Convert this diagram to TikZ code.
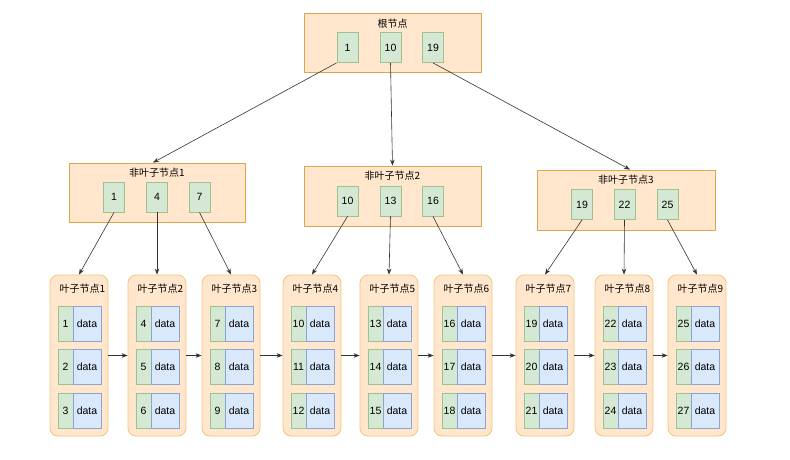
\documentclass[tikz,border=0pt]{standalone}
\usepackage{fontspec}
\setmainfont{Liberation Sans}
\newfontfamily\cjk{Noto Sans CJK SC}
\usetikzlibrary{arrows.meta,calc}
\definecolor{boxfill}{HTML}{FFE6CC}
\definecolor{boxline}{HTML}{D8A84E}
\definecolor{leafline}{HTML}{F2C57A}
\definecolor{kfill}{HTML}{D5E8D4}
\definecolor{kline}{HTML}{9CC38E}
\definecolor{dfill}{HTML}{DAE8FC}
\definecolor{dline}{HTML}{8AA6CF}
\definecolor{edge}{HTML}{333333}
\tikzset{
  bigbox/.style={draw=boxline, fill=boxfill, line width=0.8pt, inner sep=0pt},
  leafbox/.style={draw=leafline, fill=boxfill, line width=0.8pt, rounded corners=8pt, inner sep=0pt, minimum width=58pt, minimum height=161pt},
  key/.style={draw=kline, fill=kfill, line width=0.8pt, minimum width=21pt, minimum height=30pt, inner sep=0pt, font=\fontsize{10.5}{12}\selectfont},
  lkey/.style={draw=kline, fill=kfill, line width=0.8pt, minimum width=15pt, minimum height=35pt, inner sep=0pt, font=\fontsize{10.5}{12}\selectfont},
  ldata/.style={draw=dline, fill=dfill, line width=0.8pt, minimum width=28pt, minimum height=35pt, inner sep=0pt, font=\fontsize{10.5}{12}\selectfont},
  ttl/.style={font=\cjk\fontsize{10}{12}\selectfont, inner sep=0pt},
  conn/.style={draw=edge, line width=0.6pt, -{Stealth[length=6pt,width=4.5pt]}}
}
\begin{document}
\begin{tikzpicture}[x=1pt,y=-1pt]
\useasboundingbox (0,0) rectangle (790,460);
% root
\node[bigbox, minimum width=177pt, minimum height=59pt] (root) at (392.5,42.5) {};
\node[ttl] (roott) at (392.5,24) {根节点};
\node[key] (r1) at (347.5,47.5) {1};
\node[key] (r2) at (390.5,47.5) {10};
\node[key] (r3) at (433,47.5) {19};
% non-leaf nodes
\node[bigbox, minimum width=176pt, minimum height=59pt] (n1) at (157,192.5) {};
\node[ttl] (n1t) at (157,172.5) {非叶子节点1};
\node[key] (n1a) at (114,197) {1};
\node[key] (n1b) at (157,197) {4};
\node[key] (n1c) at (199.5,197) {7};
\node[bigbox, minimum width=177pt, minimum height=60pt] (n2) at (392.5,196) {};
\node[ttl] (n2t) at (392.5,176) {非叶子节点2};
\node[key] (n2a) at (347.5,201) {10};
\node[key] (n2b) at (390.5,201) {13};
\node[key] (n2c) at (433,201) {16};
\node[bigbox, minimum width=178pt, minimum height=60pt] (n3) at (626,200) {};
\node[ttl] (n3t) at (626,180) {非叶子节点3};
\node[key] (n3a) at (582,204.5) {19};
\node[key] (n3b) at (624.5,204.5) {22};
\node[key] (n3c) at (667.5,204.5) {25};
% leaves
\foreach \i/\L in {1/50,2/128,3/202,4/283,5/360,6/434,7/516,8/595,9/668}{
  \node[leafbox] (l\i) at (\L+29,355.5) {};
  \node[ttl] (l\i t) at (\L+32.5,288.5) {叶子节点\i};
  \foreach \r/\yc in {1/323.5,2/366.5,3/410.5}{
    \pgfmathtruncatemacro{\k}{3*(\i-1)+\r}
    \node[lkey] (l\i k\r) at (\L+15.5,\yc) {\k};
    \node[ldata] (l\i d\r) at (\L+37,\yc) {data};
  }
}
% connectors
\draw[conn] (r1.south west) -- ($(n1.north)+(-4,0)$);
\draw[conn] (r2.south) -- (n2.north);
\draw[conn] (r3.south) -- ($(n3.north)+(4,0)$);
\draw[conn] (n1a.south) -- (l1.north);
\draw[conn] (n1b.south) -- (l2.north);
\draw[conn] (n1c.south) -- (l3.north);
\draw[conn] (n2a.south) -- (l4.north);
\draw[conn] (n2b.south) -- (l5.north);
\draw[conn] (n2c.south) -- (l6.north);
\draw[conn] (n3a.south) -- (l7.north);
\draw[conn] (n3b.south) -- (l8.north);
\draw[conn] (n3c.south) -- (l9.north);
\foreach \a/\b in {1/2,2/3,3/4,4/5,5/6,6/7,7/8,8/9}{
  \draw[conn] (l\a.east) -- (l\b.west);
}
\end{tikzpicture}
\end{document}
